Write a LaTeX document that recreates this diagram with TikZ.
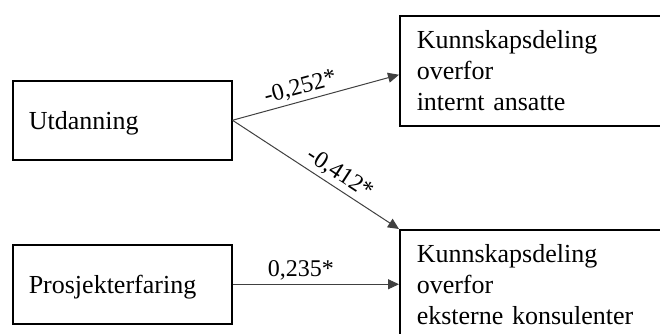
\documentclass[tikz,border=0pt]{standalone}
\usepackage{fontspec}
\setmainfont{Liberation Serif}
\usetikzlibrary{arrows.meta}
\tikzset{
    var-box/.style = {draw=black, line width=1.5pt, rectangle, anchor=north west, align=left, font=\fontsize{26}{31}\selectfont},
    left-box/.style = {var-box, minimum height=79pt, text width=187pt, inner xsep=16pt, text depth=0pt},
    right-box/.style = {var-box, minimum height=110pt, text width=260pt, inner xsep=17pt},
    path-arrow/.style = {draw=black!75, line width=1pt, -{Triangle[length=11pt,width=10pt]}},
    coef-label/.style = {font=\fontsize{24}{28}\selectfont, text=black},
}

\begin{document}
\begin{tikzpicture}[x=1pt, y=-1pt]
\useasboundingbox (0,0) rectangle (660,333);
\clip (0,0) rectangle (660,333);

\node [left-box] (utd) at (12,80) {Utdanning};
\node [left-box] (pro) at (12,244) {Prosjekterfaring};
\node [right-box] (intern) at (399,15) {Kunnskapsdeling\\overfor\\internt ansatte};
\node [right-box] (ekstern) at (399,229) {Kunnskapsdeling\\overfor\\eksterne konsulenter};

% paths with coefficients
\draw [path-arrow] (utd.east) -- node[coef-label, sloped, above, pos=0.43] (c1) {-0,252*} ([yshift=-4pt]intern.west);
\draw [path-arrow] (utd.east) -- node[coef-label, sloped, above, pos=0.6] (c2) {-0,412*} (ekstern.north west);
\draw [path-arrow] (pro.east) -- node[coef-label, above, pos=0.41] (c3) {0,235*} (pro.east -| ekstern.west);
\end{tikzpicture}
\end{document}
